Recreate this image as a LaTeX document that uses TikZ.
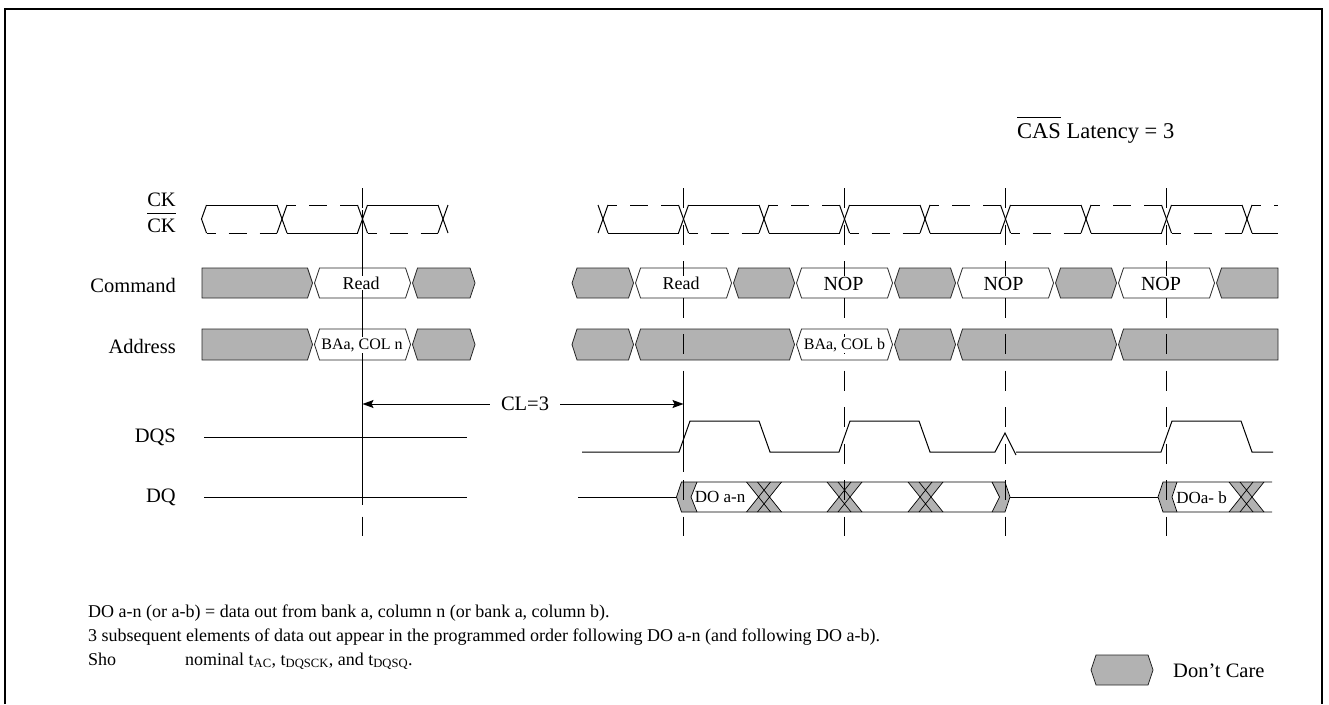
\documentclass[tikz,border=0pt]{standalone}
\usepackage{fontspec}
\setmainfont{Liberation Serif}
\usetikzlibrary{arrows.meta}
\definecolor{dcgray}{RGB}{178,178,178}
\newcommand\myovl[2][5pt]{\vbox{\hrule height 1.1pt\kern#1\hbox{#2}}}
\newcommand\hexa[5]{\path[#1] ({#2+1},{(#4+#5)/2}) -- ({#2+6},#4) -- ({#3-6},#4) -- ({#3-1},{(#4+#5)/2}) -- ({#3-6},#5) -- ({#2+6},#5) -- cycle;}
\newcommand\hexl[5]{\path[#1] (#2,#4) -- ({#3-6},#4) -- ({#3-1},{(#4+#5)/2}) -- ({#3-6},#5) -- (#2,#5) -- cycle;}
\newcommand\hexr[5]{\path[#1] ({#2+1},{(#4+#5)/2}) -- ({#2+6},#4) -- (#3,#4) -- (#3,#5) -- ({#2+6},#5) -- cycle;}
\newcommand\xhatch[1]{%
 \path[fill=dcgray] ({#1-17.5},482) -- ({#1+17.5},482) -- ({#1+5.5},497) -- ({#1+17.5},512) -- ({#1-17.5},512) -- ({#1-5.5},497) -- cycle;
 \draw[thin1] ({#1-17.5},482) -- ({#1+6.5},512) ({#1-17.5},512) -- ({#1+6.5},482) ({#1-6.5},482) -- ({#1+17.5},512) ({#1-6.5},512) -- ({#1+17.5},482);}
\begin{document}
\begin{tikzpicture}[x=1pt,y=-1pt,
 sig/.style={line width=1pt},
 thin1/.style={line width=0.7pt},
 dsh/.style={line width=1pt,dash pattern=on 18pt off 13pt,dash phase=9pt},
 vdash/.style={line width=0.9pt,dash pattern=on 20pt off 16.5pt},
 dc/.style={fill=dcgray,draw=black!85,line width=0.8pt},
 vb/.style={fill=white,draw=black!85,line width=0.8pt},
 lbl/.style={font=\fontsize{20.5}{24}\selectfont,inner sep=0pt},
 boxtxt/.style={fill=white,inner sep=1pt},
 note/.style={font=\fontsize{18}{22}\selectfont,inner sep=0pt,anchor=base west},
 arr/.style={line width=1pt,-{Stealth[length=11pt,width=8pt,inset=2pt]}}]
\useasboundingbox (0,0) rectangle (1329,704);
\draw[line width=1.6pt] (5,704) -- (5,9) -- (1322,9) -- (1322,704);

% signal labels
\node[lbl,anchor=base east] (lck) at (176,206) {CK};
\node[lbl,anchor=base east] (lckb) at (176,232) {\myovl[4pt]{CK}};
\node[lbl,anchor=east] (lcmd) at (176,285) {Command};
\node[lbl,anchor=east] (ladr) at (176,346) {Address};
\node[lbl,anchor=east] (ldqs) at (176,437) {DQS};
\node[lbl,anchor=east] (ldq) at (176,497) {DQ};
\node[lbl,font=\fontsize{22.5}{26}\selectfont,anchor=base west] (cas) at (1017,138) {\myovl{CAS} Latency = 3};

% clock
\foreach \xa/\xb/\p in {201.5/282/0, 282/362.5/1, 362.5/443/0, 603/683.5/1, 683.5/764/0, 764/844.5/1, 844.5/925/0, 925/1005.5/1, 1005.5/1086/0, 1086/1166.5/1, 1166.5/1247/0, 1247/1283/1}{
  \pgfmathsetmacro\ys{205+28*\p}
  \pgfmathsetmacro\yd{233-28*\p}
  \draw[sig] ({\xa+5},\ys) -- ({\xb-5},\ys);
  \draw[dsh] ({\xa+5},\yd) -- ({\xb-5},\yd);
}
\foreach \x in {282,362.5,443,603,683.5,764,844.5,925,1005.5,1086,1166.5,1247}{
  \draw[sig] ({\x-5},205) -- ({\x+5},233);
  \draw[sig] ({\x-5},233) -- ({\x+5},205);
}
\draw[sig] (206.5,205) -- (201.5,219) -- (206.5,233);

% command row
\hexl{dc}{202}{313.5}{268}{298}
\hexa{vb}{313.5}{411.5}{268}{298}
\hexa{dc}{411.5}{476}{268}{298}
\hexa{dc}{571}{634.5}{268}{298}
\hexa{vb}{634.5}{732.5}{268}{298}
\hexa{dc}{732.5}{795.5}{268}{298}
\hexa{vb}{795.5}{893.5}{268}{298}
\hexa{dc}{893.5}{956.5}{268}{298}
\hexa{vb}{956.5}{1054.5}{268}{298}
\hexa{dc}{1054.5}{1117.5}{268}{298}
\hexa{vb}{1117.5}{1215.5}{268}{298}
\hexr{dc}{1215.5}{1278}{268}{298}

% address row
\hexl{dc}{202}{313.5}{329}{360}
\hexa{vb}{313.5}{411.5}{329}{360}
\hexa{dc}{411.5}{476}{329}{360}
\hexa{dc}{571}{634.5}{329}{360}
\hexa{dc}{634.5}{795.5}{329}{360}
\hexa{vb}{795.5}{893.5}{329}{360}
\hexa{dc}{893.5}{956.5}{329}{360}
\hexa{dc}{956.5}{1117.5}{329}{360}
\hexr{dc}{1117.5}{1278}{329}{360}

% DQS
\draw[sig] (204,437) -- (467,437);
\draw[sig] (582,452) -- (679,452) -- (690,421) -- (759,421) -- (770,452) -- (839,452) -- (850,421) -- (919,421) -- (930,452) -- (995,452) -- (1005,433) -- (1016,455);
\draw[sig] (1016,452) -- (1161,452) -- (1172,421) -- (1241,421) -- (1252,452) -- (1273,452);

% DQ
\draw[sig] (204,497) -- (467,497);
\draw[sig] (578,497) -- (676.5,497);
\draw[sig] (1010,497) -- (1158,497);
\path[fill=white] (676.5,497) -- (681.5,482) -- (1005,482) -- (1010,497) -- (1005,512) -- (681.5,512) -- cycle;
\path[fill=dcgray] (681.5,482) -- (697,482) -- (691,497) -- (697,512) -- (681.5,512) -- (676.5,497) -- cycle;
\path[fill=dcgray] (992,482) -- (1005,482) -- (1010,497) -- (1005,512) -- (992,512) -- (999.5,497) -- cycle;
\xhatch{764}
\xhatch{844.5}
\xhatch{925.5}
\draw[thin1] (681.5,482) -- (1005,482) -- (1010,497) -- (1005,512) -- (681.5,512) -- (676.5,497) -- cycle;
\draw[thin1] (697,482) -- (691,497) -- (697,512);
\draw[thin1] (992,482) -- (999.5,497) -- (992,512);
\path[fill=white] (1158,497) -- (1163,482) -- (1272,482) -- (1272,512) -- (1163,512) -- cycle;
\path[fill=dcgray] (1163,482) -- (1177,482) -- (1172,497) -- (1177,512) -- (1163,512) -- (1158,497) -- cycle;
\xhatch{1246.5}
\draw[thin1] (1272,482) -- (1163,482) -- (1158,497) -- (1163,512) -- (1272,512);
\draw[thin1] (1177,482) -- (1172,497) -- (1177,512);

% vertical reference lines
\foreach \x in {362.5,683.5,844.5,1005.5,1166.5}{
  \draw[vdash] (\x,188) -- (\x,536);
}
\draw[sig] (362.5,210) -- (362.5,505);
\draw[sig] (683.5,385) -- (683.5,472);

% box texts
\node[boxtxt,font=\fontsize{18}{20}\selectfont] (rd1) at (361,283) {Read};
\node[boxtxt,font=\fontsize{18}{20}\selectfont] (rd2) at (681,283) {Read};
\node[boxtxt,font=\fontsize{20}{22}\selectfont] (nop1) at (843.5,284) {NOP};
\node[boxtxt,font=\fontsize{20}{22}\selectfont] (nop2) at (1003.5,284) {NOP};
\node[boxtxt,font=\fontsize{20}{22}\selectfont] (nop3) at (1161,284) {NOP};
\node[boxtxt,font=\fontsize{16}{18}\selectfont] (ba1) at (362,345) {BAa, COL n};
\node[boxtxt,font=\fontsize{16}{18}\selectfont] (ba2) at (844.5,345) {BAa, COL b};
\node[inner sep=0pt,font=\fontsize{17}{19}\selectfont] (do1) at (720,497) {DO a-n};
\node[inner sep=0pt,font=\fontsize{17}{19}\selectfont] (do2) at (1201.5,498) {DOa- b};

% CL=3
\node[lbl,inner xsep=11pt,inner ysep=2pt] (cl) at (525,404) {CL=3};
\coordinate (clL) at (362.5,404);
\coordinate (clR) at (683.5,404);
\draw[arr] (cl) -- (clL);
\draw[arr] (cl) -- (clR);

% legend
\hexa{dc}{1090}{1154}{655}{685}
\node[lbl,anchor=west] (dcl) at (1173,671) {Don’t Care};

% notes
\node[note] (n1) at (88,617) {DO a-n (or a-b) = data out from bank a, column n (or bank a, column b).};
\node[note] (n2) at (88,641.5) {3 subsequent elements of data out appear in the programmed order following DO a-n (and following DO a-b).};
\node[note] (n3a) at (88,665) {Sho};
\node[note] (n3b) at (185,665) {nominal t\textsubscript{AC}, t\textsubscript{DQSCK}, and t\textsubscript{DQSQ}.};
\end{tikzpicture}
\end{document}
